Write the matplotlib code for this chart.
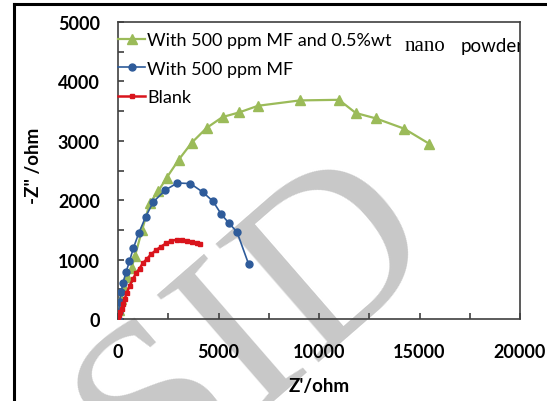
import matplotlib
matplotlib.use("Agg")
import matplotlib.pyplot as plt
from matplotlib.lines import Line2D
from matplotlib.ticker import MultipleLocator

# Nyquist data (Z' and -Z'' in ohm)
green_x = [0, 60, 150, 280, 450, 680, 845, 1200, 1590, 2000, 2420, 3030, 3660, 4410,
           5200, 6030, 6970, 9050, 10990, 11830, 12820, 14230, 15470]
green_y = [0, 150, 330, 520, 700, 867, 1062, 1500, 1958, 2150, 2378, 2685, 2965, 3217,
           3400, 3478, 3590, 3680, 3690, 3468, 3378, 3205, 2953]

blue_x = [0, 30, 80, 150, 250, 400, 570, 760, 1045, 1375, 1755, 2350, 2950, 3600,
          4220, 4730, 5140, 5500, 5920, 6500]
blue_y = [0, 120, 290, 450, 610, 790, 970, 1190, 1455, 1720, 1970, 2170, 2290, 2280,
          2136, 1980, 1762, 1622, 1465, 923]

red_x = [0, 60, 120, 180, 250, 330, 440, 580, 740, 900, 1070, 1240, 1450, 1650, 1900,
         2150, 2400, 2650, 2920, 3170, 3420, 3660, 3910, 4080]
red_y = [0, 60, 110, 170, 250, 335, 445, 560, 670, 770, 850, 940, 1015, 1090, 1160,
         1220, 1275, 1315, 1335, 1337, 1320, 1297, 1275, 1258]

labels = ["With 500 ppm MF and 0.5%wt", "With 500 ppm MF", "Blank"]

sans = "Lato"

fig = plt.figure(figsize=(5.47, 4.02), dpi=100)
ax = fig.add_axes([118 / 547, 82 / 402, 402 / 547, 297 / 402])
ax.patch.set_alpha(0)

# watermark behind everything
fig.text(0.47, 0.19, "SID", fontsize=172, family="Liberation Serif",
         color="#c8c8c8", rotation=41, rotation_mode="anchor",
         ha="center", va="center", zorder=-5)

ax.plot(green_x, green_y, color="#9bbb59", lw=1.6, marker="^", ms=6.5,
        label=labels[0], zorder=3)
ax.plot(blue_x, blue_y, color="#2e5b9a", lw=1.2, marker="o", ms=5,
        label=labels[1], zorder=4)
ax.plot(red_x, red_y, color="#d9141c", lw=1.8, marker="s", ms=2.6,
        label=labels[2], zorder=5)

ax.set_xlim(0, 20000)
ax.set_ylim(0, 5000)
ax.xaxis.set_major_locator(MultipleLocator(5000))
ax.xaxis.set_minor_locator(MultipleLocator(2500))
ax.yaxis.set_major_locator(MultipleLocator(1000))
ax.yaxis.set_minor_locator(MultipleLocator(500))
ax.tick_params(which="both", direction="in", length=4, width=1.2, color="#404040")
ax.tick_params(axis="y", which="major", pad=13)
ax.tick_params(axis="x", which="major", pad=17)
for lab in ax.get_xticklabels() + ax.get_yticklabels():
    lab.set_fontfamily(sans)
    lab.set_fontweight("bold")
    lab.set_fontsize(13)
for sp in ax.spines.values():
    sp.set_color("#404040")
    sp.set_linewidth(1.2)

ax.set_xlabel("Z'/ohm", fontfamily=sans, fontweight="bold", fontsize=13.5)
ax.set_ylabel('-Z" /ohm', fontfamily=sans, fontweight="bold", fontsize=13.5)
ax.xaxis.set_label_coords(0.5, -0.195)
ax.yaxis.set_label_coords(-0.19, 0.52)

leg = ax.legend(loc="upper left", bbox_to_anchor=(0.0, 0.965), frameon=False,
                prop={"family": sans, "size": 13}, handlelength=1.5,
                handletextpad=0.12, labelspacing=0.68, borderaxespad=0.0,
                borderpad=0.0)

ax.text(0.714, 0.922, "nano", transform=ax.transAxes, family="Liberation Serif",
        fontsize=15, va="center", ha="left")
ax.text(0.853, 0.922, "powder", transform=ax.transAxes, family=sans,
        fontsize=13.5, va="center", ha="left", clip_on=True)

# page frame lines (top and left)
fig.add_artist(Line2D([14 / 547, 545 / 547], [1 - 5 / 402, 1 - 5 / 402],
                      color="black", lw=2.2, transform=fig.transFigure))
fig.add_artist(Line2D([14 / 547, 14 / 547], [0, 1 - 5 / 402],
                      color="black", lw=2.2, transform=fig.transFigure))

fig.savefig("out.png", dpi=100)
